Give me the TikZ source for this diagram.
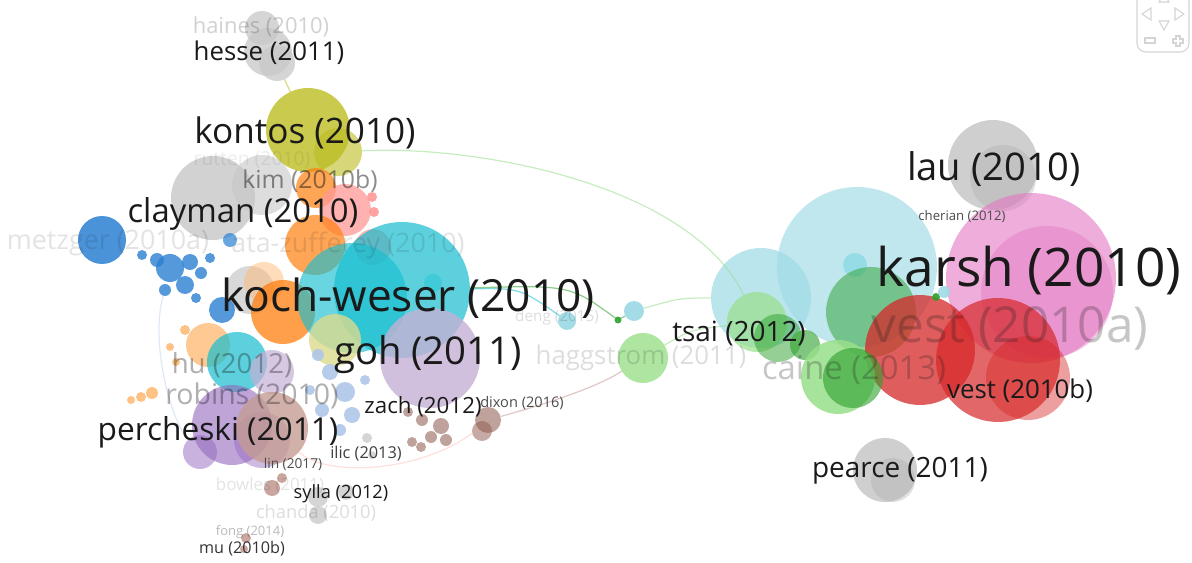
\documentclass[tikz,border=0pt]{standalone}
\usepackage{fontspec}
\setmainfont{Open Sans}
\usepackage{tikz}

\definecolor{ink}{HTML}{1A1A1A}
\definecolor{cgray}{HTML}{C7C7C7}
\definecolor{cgray2}{HTML}{A8A8A8}
\definecolor{ccyan}{HTML}{17BECF}
\definecolor{clcyan}{HTML}{9EDAE5}
\definecolor{cblue}{HTML}{2A80D2}
\definecolor{clblue}{HTML}{AEC7E8}
\definecolor{cgreen}{HTML}{2CA02C}
\definecolor{clgreen}{HTML}{98DF8A}
\definecolor{cred}{HTML}{D62728}
\definecolor{clred}{HTML}{FF9896}
\definecolor{cpink}{HTML}{E377C2}
\definecolor{corange}{HTML}{FF7F0E}
\definecolor{clorange}{HTML}{FFBB78}
\definecolor{colive}{HTML}{BCBD22}
\definecolor{clolive}{HTML}{DBDB8D}
\definecolor{cpurple}{HTML}{9467BD}
\definecolor{clpurple}{HTML}{C5B0D5}
\definecolor{cbrown}{HTML}{8C564B}
\definecolor{clbrown}{HTML}{C49C94}
\definecolor{navline}{HTML}{D4D4D4}

\begin{document}
\begin{tikzpicture}[x=0.02cm, y=-0.02cm,
  every node/.style={inner sep=0pt, outer sep=0pt},
  bub/.style={circle, fill=#1, fill opacity=0.75},
  rad/.style={minimum size=#1*0.04cm},
  lab/.style={font=\fontsize{#1}{#1}\selectfont, text=ink},
  fade/.style={text opacity=#1},
  edge/.style={draw=#1, line width=0.7pt, draw opacity=0.55}]
\clip (0,0) rectangle (1192,563);

% right cluster
\node[bub=cgray, rad=45, fill opacity=.85] (lau) at (993,165) {};
\node[bub=cgray2, rad=33, fill opacity=.35] (lau2) at (1003,178) {};
\node[bub=clcyan, rad=80, fill opacity=.65] (tsaiB) at (857,267) {};
\node[bub=cpink, rad=85, fill opacity=.6] (karsh) at (1031,278) {};
\node[bub=cpink, rad=66, fill opacity=.45] (karsh2) at (1047,292) {};
\node[bub=clcyan, rad=50, fill opacity=.7] (tsai) at (761,298) {};
\node[bub=ccyan, rad=12, fill opacity=.25] (tsaiC) at (855,265) {};
\node[bub=cgreen, rad=45, fill opacity=.5] (green1) at (871,312) {};
\node[bub=clgreen, rad=30, fill opacity=.7] (tsaiG) at (757,322) {};
\node[bub=cgreen, rad=24, fill opacity=.5] (green2) at (778,338) {};
\node[bub=cgreen, rad=15, fill opacity=.6] (green3) at (805,345) {};
\node[bub=cred, rad=55, fill opacity=.75] (vest) at (920,350) {};
\node[bub=cred, rad=62, fill opacity=.7] (vestb) at (998,360) {};
\node[bub=cred, rad=42, fill opacity=.45] (vestc) at (1028,378) {};
\node[bub=clgreen, rad=37, fill opacity=.85] (caine) at (838,377) {};
\node[bub=cgreen, rad=30, fill opacity=.6] (caine2) at (853,378) {};
\node[bub=cgreen, rad=4, fill opacity=.9] (gdot1) at (936,297) {};
\node[bub=clcyan, rad=6, fill opacity=.9] (cdot1) at (944,292) {};
\node[bub=cgray, rad=32, fill opacity=.85] (pearce) at (885,470) {};
\node[bub=cgray2, rad=22, fill opacity=.35] (pearce2) at (893,480) {};

% middle
\node[bub=clgreen, rad=25, fill opacity=.8] (hagg) at (643,358) {};
\node[bub=clcyan, rad=9, fill opacity=.95] (deng) at (567,321) {};
\node[bub=clcyan, rad=10, fill opacity=.95] (cdot) at (634,311) {};
\node[bub=cgreen, rad=3.5, fill opacity=.9] (gdot) at (618,320) {};

% left cluster
\node[bub=cgray, rad=17] (haines) at (262,28) {};
\node[bub=cgray, rad=24] (hesse) at (268,52) {};
\node[bub=cgray, rad=18] (hesse2) at (277,63) {};
\node[bub=cgray, rad=42, fill opacity=.8] (rutten) at (213,198) {};
\node[bub=cgray, rad=30, fill opacity=.6] (kim) at (262,185) {};
\node[bub=colive, rad=42, fill opacity=.8] (kontos) at (308,130) {};
\node[bub=colive, rad=24, fill opacity=.6] (kontos2) at (338,152) {};
\node[bub=corange, rad=20, fill opacity=.7] (kimO) at (316,188) {};
\node[bub=clred, rad=26, fill opacity=.75] (kimP) at (345,210) {};
\node[bub=clred, rad=18, fill opacity=.75] (kimP2) at (373,247) {};
\node[bub=clred, rad=5, fill opacity=.9] (kimP3) at (372,197) {};
\node[bub=clred, rad=5, fill opacity=.9] (kimP4) at (374,212) {};
\node[bub=corange, rad=30, fill opacity=.7] (clayO) at (315,245) {};
\node[bub=cgray, rad=24, fill opacity=.7] (gray3) at (250,290) {};
\node[bub=clorange, rad=20, fill opacity=.5] (tan1) at (264,282) {};
\node[bub=corange, rad=32, fill opacity=.75] (kochO) at (283,312) {};
\node[bub=ccyan, rad=68, fill opacity=.7] (koch) at (402,290) {};
\node[bub=ccyan, rad=55, fill opacity=.65] (koch2) at (352,298) {};
\node[bub=ccyan, rad=9, fill opacity=.4] (koch3) at (433,283) {};
\node[bub=clolive, rad=26, fill opacity=.8] (olive2) at (335,340) {};
\node[bub=clpurple, rad=50, fill opacity=.8] (goh) at (430,358) {};
\node[bub=cblue, rad=24, fill opacity=.85] (metzger) at (102,240) {};
\node[bub=cblue, rad=14, fill opacity=.8] (blue1) at (170,268) {};
\node[bub=cblue, rad=7, fill opacity=.8] (blue2) at (157,260) {};
\node[bub=cblue, rad=5, fill opacity=.8] (blue3) at (142,255) {};
\node[bub=cblue, rad=8, fill opacity=.8] (blue4) at (190,262) {};
\node[bub=cblue, rad=6, fill opacity=.8] (blue5) at (201,273) {};
\node[bub=cblue, rad=9, fill opacity=.8] (blue6) at (185,285) {};
\node[bub=cblue, rad=6, fill opacity=.8] (blue7) at (165,290) {};
\node[bub=cblue, rad=5, fill opacity=.8] (blue8) at (210,258) {};
\node[bub=cblue, rad=7, fill opacity=.7] (blue9) at (230,240) {};
\node[bub=cblue, rad=13, fill opacity=.8] (blue10) at (222,310) {};
\node[bub=cblue, rad=5, fill opacity=.8] (blue11) at (196,298) {};
\node[bub=clorange, rad=22, fill opacity=.8] (huO) at (208,345) {};
\node[bub=clorange, rad=5, fill opacity=.9] (or1) at (185,330) {};
\node[bub=clorange, rad=4, fill opacity=.9] (or2) at (170,347) {};
\node[bub=clorange, rad=4, fill opacity=.9] (or3) at (176,362) {};
\node[bub=clorange, rad=4, fill opacity=.9] (or4) at (131,400) {};
\node[bub=clorange, rad=5, fill opacity=.9] (or5) at (141,397) {};
\node[bub=clorange, rad=6, fill opacity=.9] (or6) at (152,393) {};
\node[bub=ccyan, rad=30, fill opacity=.7] (hu) at (237,362) {};
\node[bub=clpurple, rad=22, fill opacity=.7] (pur0) at (272,372) {};
\node[bub=cpurple, rad=40, fill opacity=.6] (perch) at (232,425) {};
\node[bub=cpurple, rad=17, fill opacity=.5] (perch2) at (200,452) {};
\node[bub=cpurple, rad=28, fill opacity=.45] (perch3) at (262,440) {};
\node[bub=clbrown, rad=36, fill opacity=.8] (robins) at (272,428) {};
\node[bub=clblue, rad=8, fill opacity=.9] (lb1) at (330,372) {};
\node[bub=clblue, rad=10, fill opacity=.9] (lb2) at (345,392) {};
\node[bub=clblue, rad=7, fill opacity=.9] (lb3) at (322,410) {};
\node[bub=clblue, rad=8, fill opacity=.9] (lb4) at (352,415) {};
\node[bub=clblue, rad=6, fill opacity=.9] (lb5) at (318,355) {};
\node[bub=clblue, rad=6, fill opacity=.9] (lb6) at (340,430) {};
\node[bub=clblue, rad=5, fill opacity=.9] (lb7) at (365,380) {};
\node[bub=clblue, rad=5, fill opacity=.9] (lb8) at (310,390) {};
\node[bub=cgray, rad=5] (ilic) at (367,438) {};
\node[bub=cgray, rad=4] (ilic2) at (372,455) {};
\node[bub=cbrown, rad=5, fill opacity=.55] (zach1) at (408,412) {};
\node[bub=cbrown, rad=6, fill opacity=.55] (zach2) at (422,420) {};
\node[bub=cbrown, rad=8, fill opacity=.55] (zach) at (441,426) {};
\node[bub=cbrown, rad=5, fill opacity=.55] (zach3) at (412,442) {};
\node[bub=cbrown, rad=6, fill opacity=.55] (zach4) at (431,437) {};
\node[bub=cbrown, rad=6, fill opacity=.55] (zach5) at (446,440) {};
\node[bub=cbrown, rad=5, fill opacity=.55] (zach6) at (421,447) {};
\node[bub=cbrown, rad=13, fill opacity=.55] (dixon) at (488,420) {};
\node[bub=cbrown, rad=10, fill opacity=.5] (dixon2) at (482,431) {};
\node[bub=clbrown, rad=8, fill opacity=.9] (bowles) at (272,488) {};
\node[bub=clbrown, rad=5, fill opacity=.9] (bowles2) at (282,478) {};
\node[bub=cgray, rad=10] (sylla) at (318,497) {};
\node[bub=cgray, rad=8] (sylla2) at (346,492) {};
\node[bub=cgray, rad=9] (chanda) at (318,515) {};
\node[bub=clbrown, rad=5, fill opacity=.9] (fong) at (246,538) {};
\node[bub=clbrown, rad=4, fill opacity=.9] (mu) at (244,549) {};

% links
\draw[edge=colive] (hesse2) -- (kontos);
\draw[edge=clgreen] (kontos2) .. controls (480,145) and (690,185) .. (tsaiG);
\draw[edge=ccyan] (koch) .. controls (520,288) .. (deng);
\draw[edge=cgreen] (koch) .. controls (570,285) .. (gdot);
\draw[edge=cgreen] (gdot) -- (cdot);
\draw[edge=clgreen] (cdot) .. controls (680,298) .. (tsai);
\draw[edge=clbrown] (dixon) .. controls (560,400) and (600,385) .. (hagg);
\draw[edge=clgreen] (hagg) .. controls (690,330) .. (tsaiG);
\draw[edge=clred, draw opacity=.3] (robins) .. controls (330,480) and (430,470) .. (dixon);
\draw[edge=clblue, draw opacity=.4] (blue7) .. controls (150,340) and (170,420) .. (perch2);

% labels
\node[lab=30.3] (l-karsh) at (1029,270) {karsh (2010)};
\node[lab=28.2, fade=.25] (l-vesta) at (1010,328) {vest (2010a)};
\node[lab=21.7] (l-lau) at (994,169) {lau (2010)};
\node[lab=7.5, text=black!70] (l-cherian) at (962,217) {cherian (2012)};
\node[lab=15.9] (l-tsai) at (739,333) {tsai (2012)};
\node[lab=14.7, fade=.15] (l-hagg) at (641,358) {haggstrom (2011)};
\node[lab=18.7, fade=.25] (l-caine) at (854,370) {caine (2013)};
\node[lab=14.7] (l-vestb) at (1020,391) {vest (2010b)};
\node[lab=15.9] (l-pearce) at (900,471) {pearce (2011)};
\node[lab=8.7, fade=.15] (l-deng) at (557,318) {deng (2015)};
\node[lab=25.2] (l-koch) at (408,298) {koch-weser (2010)};
\node[lab=21.8] (l-goh) at (428,355) {goh (2011)};
\node[lab=20] (l-kontos) at (305,133) {kontos (2010)};
\node[lab=18.7] (l-clayman) at (243,214) {clayman (2010)};
\node[lab=14.1, fade=.5] (l-kim) at (310,181) {kim (2010b)};
\node[lab=11, fade=.08] (l-rutten) at (252,160) {rutten (2010)};
\node[lab=12.5, fade=.2] (l-haines) at (261,27) {haines (2010)};
\node[lab=14.7] (l-hesse) at (269,53) {hesse (2011)};
\node[lab=15.3, fade=.12] (l-metzger) at (108,243) {metzger (2010a)};
\node[lab=15.3, fade=.12] (l-zufferey) at (348,245) {ata-zufferey (2010)};
\node[lab=15.7, fade=.35] (l-hu) at (232,365) {hu (2012)};
\node[lab=16.2, fade=.35] (l-robins) at (252,396) {robins (2010)};
\node[lab=18] (l-perch) at (218,432) {percheski (2011)};
\node[lab=12.7] (l-zach) at (423,407) {zach (2012)};
\node[lab=8.3, text=black!70] (l-dixon) at (522,403) {dixon (2016)};
\node[lab=9.3, text=black!75] (l-ilic) at (366,454) {ilic (2013)};
\node[lab=7.8, text=black!70] (l-lin) at (293,464) {lin (2017)};
\node[lab=9.6, fade=.12] (l-bowles) at (270,485) {bowles (2011)};
\node[lab=10.4] (l-sylla) at (341,494) {sylla (2012)};
\node[lab=10.4, fade=.15] (l-chanda) at (316,513) {chanda (2010)};
\node[lab=7.4, fade=.3] (l-fong) at (250,532) {fong (2014)};
\node[lab=9.2, text=black!80] (l-mu) at (242,549) {mu (2010b)};

% navigation box
\draw[navline, line width=0.6pt, rounded corners=5] (1137,-10) rectangle (1189,52);
\draw[navline, line width=0.6pt] (1159,2) -- (1169,2) -- (1164,-7) -- cycle;
\draw[navline, line width=0.6pt] (1151,8) -- (1142,14) -- (1151,20) -- cycle;
\draw[navline, line width=0.6pt] (1175,8) -- (1184,14) -- (1175,20) -- cycle;
\draw[navline, line width=0.6pt] (1159,21) -- (1169,21) -- (1164,30) -- cycle;
\draw[navline, line width=0.6pt] (1145,38) rectangle (1155,43);
\draw[navline, line width=0.6pt] (1176,36) -- (1180,36) -- (1180,39) -- (1183,39) -- (1183,43) -- (1180,43)
  -- (1180,46) -- (1176,46) -- (1176,43) -- (1173,43) -- (1173,39) -- (1176,39) -- cycle;
\end{tikzpicture}
\end{document}
